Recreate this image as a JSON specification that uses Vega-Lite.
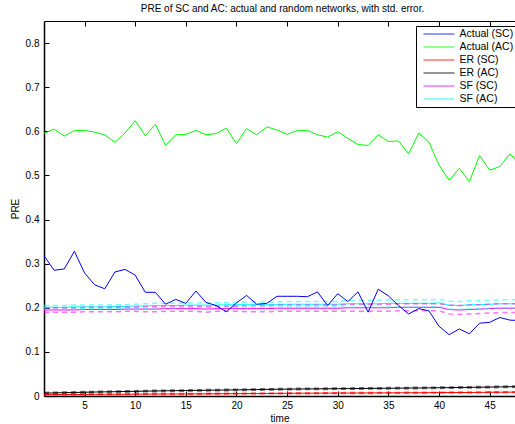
{
  "$schema": "https://vega.github.io/schema/vega-lite/v6.json",
  "width": 471,
  "height": 375,
  "autosize": "none",
  "padding": {"left": 44, "top": 21, "right": 0, "bottom": 28},
  "background": "white",
  "config": {
    "view": {"stroke": null},
    "font": "Liberation Sans",
    "axis": {"grid": false, "labelFontSize": 10, "labelColor": "black", "titleFontSize": 10, "titleFontWeight": "normal", "titleColor": "black", "domainColor": "black", "tickColor": "black", "tickSize": -5}
  },
  "title": {"text": "PRE of SC and AC: actual and random networks, with std. error.", "fontSize": 10, "fontWeight": "normal", "color": "black", "anchor": "middle", "offset": 7, "dx": 3},
  "datasets": {
    "act": [
      {"t":1,"s":"Actual (SC)","v":0.318},{"t":2,"s":"Actual (SC)","v":0.285},{"t":3,"s":"Actual (SC)","v":0.288},{"t":4,"s":"Actual (SC)","v":0.328},{"t":5,"s":"Actual (SC)","v":0.279},{"t":6,"s":"Actual (SC)","v":0.252},{"t":7,"s":"Actual (SC)","v":0.243},{"t":8,"s":"Actual (SC)","v":0.281},{"t":9,"s":"Actual (SC)","v":0.287},{"t":10,"s":"Actual (SC)","v":0.274},
      {"t":11,"s":"Actual (SC)","v":0.235},{"t":12,"s":"Actual (SC)","v":0.235},{"t":13,"s":"Actual (SC)","v":0.208},{"t":14,"s":"Actual (SC)","v":0.219},{"t":15,"s":"Actual (SC)","v":0.210},{"t":16,"s":"Actual (SC)","v":0.238},{"t":17,"s":"Actual (SC)","v":0.212},{"t":18,"s":"Actual (SC)","v":0.205},{"t":19,"s":"Actual (SC)","v":0.191},{"t":20,"s":"Actual (SC)","v":0.211},
      {"t":21,"s":"Actual (SC)","v":0.228},{"t":22,"s":"Actual (SC)","v":0.208},{"t":23,"s":"Actual (SC)","v":0.210},{"t":24,"s":"Actual (SC)","v":0.226},{"t":25,"s":"Actual (SC)","v":0.226},{"t":26,"s":"Actual (SC)","v":0.226},{"t":27,"s":"Actual (SC)","v":0.225},{"t":28,"s":"Actual (SC)","v":0.236},{"t":29,"s":"Actual (SC)","v":0.205},{"t":30,"s":"Actual (SC)","v":0.232},
      {"t":31,"s":"Actual (SC)","v":0.214},{"t":32,"s":"Actual (SC)","v":0.236},{"t":33,"s":"Actual (SC)","v":0.190},{"t":34,"s":"Actual (SC)","v":0.242},{"t":35,"s":"Actual (SC)","v":0.227},{"t":36,"s":"Actual (SC)","v":0.205},{"t":37,"s":"Actual (SC)","v":0.186},{"t":38,"s":"Actual (SC)","v":0.198},{"t":39,"s":"Actual (SC)","v":0.193},{"t":40,"s":"Actual (SC)","v":0.158},
      {"t":41,"s":"Actual (SC)","v":0.139},{"t":42,"s":"Actual (SC)","v":0.152},{"t":43,"s":"Actual (SC)","v":0.141},{"t":44,"s":"Actual (SC)","v":0.165},{"t":45,"s":"Actual (SC)","v":0.167},{"t":46,"s":"Actual (SC)","v":0.178},{"t":47,"s":"Actual (SC)","v":0.172},{"t":48,"s":"Actual (SC)","v":0.171},
      {"t":1,"s":"Actual (AC)","v":0.595},{"t":2,"s":"Actual (AC)","v":0.605},{"t":3,"s":"Actual (AC)","v":0.589},{"t":4,"s":"Actual (AC)","v":0.602},{"t":5,"s":"Actual (AC)","v":0.602},{"t":6,"s":"Actual (AC)","v":0.598},{"t":7,"s":"Actual (AC)","v":0.592},{"t":8,"s":"Actual (AC)","v":0.575},{"t":9,"s":"Actual (AC)","v":0.596},{"t":10,"s":"Actual (AC)","v":0.624},
      {"t":11,"s":"Actual (AC)","v":0.590},{"t":12,"s":"Actual (AC)","v":0.616},{"t":13,"s":"Actual (AC)","v":0.568},{"t":14,"s":"Actual (AC)","v":0.592},{"t":15,"s":"Actual (AC)","v":0.593},{"t":16,"s":"Actual (AC)","v":0.602},{"t":17,"s":"Actual (AC)","v":0.592},{"t":18,"s":"Actual (AC)","v":0.595},{"t":19,"s":"Actual (AC)","v":0.607},{"t":20,"s":"Actual (AC)","v":0.572},
      {"t":21,"s":"Actual (AC)","v":0.606},{"t":22,"s":"Actual (AC)","v":0.592},{"t":23,"s":"Actual (AC)","v":0.610},{"t":24,"s":"Actual (AC)","v":0.603},{"t":25,"s":"Actual (AC)","v":0.593},{"t":26,"s":"Actual (AC)","v":0.602},{"t":27,"s":"Actual (AC)","v":0.602},{"t":28,"s":"Actual (AC)","v":0.592},{"t":29,"s":"Actual (AC)","v":0.587},{"t":30,"s":"Actual (AC)","v":0.599},
      {"t":31,"s":"Actual (AC)","v":0.584},{"t":32,"s":"Actual (AC)","v":0.570},{"t":33,"s":"Actual (AC)","v":0.568},{"t":34,"s":"Actual (AC)","v":0.592},{"t":35,"s":"Actual (AC)","v":0.577},{"t":36,"s":"Actual (AC)","v":0.578},{"t":37,"s":"Actual (AC)","v":0.549},{"t":38,"s":"Actual (AC)","v":0.596},{"t":39,"s":"Actual (AC)","v":0.576},{"t":40,"s":"Actual (AC)","v":0.523},
      {"t":41,"s":"Actual (AC)","v":0.489},{"t":42,"s":"Actual (AC)","v":0.516},{"t":43,"s":"Actual (AC)","v":0.486},{"t":44,"s":"Actual (AC)","v":0.545},{"t":45,"s":"Actual (AC)","v":0.512},{"t":46,"s":"Actual (AC)","v":0.520},{"t":47,"s":"Actual (AC)","v":0.549},{"t":48,"s":"Actual (AC)","v":0.525}
    ],
    "rnd": [
      {"t":1,"s":"ER (SC)","v":0.0030,"lo":0.0020,"hi":0.0040},{"t":2,"s":"ER (SC)","v":0.0031,"lo":0.0021,"hi":0.0041},{"t":3,"s":"ER (SC)","v":0.0033,"lo":0.0023,"hi":0.0043},{"t":4,"s":"ER (SC)","v":0.0034,"lo":0.0024,"hi":0.0044},{"t":5,"s":"ER (SC)","v":0.0035,"lo":0.0025,"hi":0.0045},{"t":6,"s":"ER (SC)","v":0.0037,"lo":0.0027,"hi":0.0047},{"t":7,"s":"ER (SC)","v":0.0038,"lo":0.0028,"hi":0.0048},{"t":8,"s":"ER (SC)","v":0.0039,"lo":0.0029,"hi":0.0049},{"t":9,"s":"ER (SC)","v":0.0040,"lo":0.0030,"hi":0.0050},{"t":10,"s":"ER (SC)","v":0.0042,"lo":0.0032,"hi":0.0052},
      {"t":11,"s":"ER (SC)","v":0.0043,"lo":0.0033,"hi":0.0053},{"t":12,"s":"ER (SC)","v":0.0044,"lo":0.0034,"hi":0.0054},{"t":13,"s":"ER (SC)","v":0.0045,"lo":0.0035,"hi":0.0055},{"t":14,"s":"ER (SC)","v":0.0046,"lo":0.0036,"hi":0.0056},{"t":15,"s":"ER (SC)","v":0.0047,"lo":0.0037,"hi":0.0057},{"t":16,"s":"ER (SC)","v":0.0048,"lo":0.0038,"hi":0.0058},{"t":17,"s":"ER (SC)","v":0.0050,"lo":0.0040,"hi":0.0060},{"t":18,"s":"ER (SC)","v":0.0051,"lo":0.0041,"hi":0.0061},{"t":19,"s":"ER (SC)","v":0.0052,"lo":0.0042,"hi":0.0062},{"t":20,"s":"ER (SC)","v":0.0053,"lo":0.0043,"hi":0.0063},
      {"t":21,"s":"ER (SC)","v":0.0055,"lo":0.0045,"hi":0.0065},{"t":22,"s":"ER (SC)","v":0.0056,"lo":0.0046,"hi":0.0066},{"t":23,"s":"ER (SC)","v":0.0058,"lo":0.0048,"hi":0.0068},{"t":24,"s":"ER (SC)","v":0.0060,"lo":0.0050,"hi":0.0070},{"t":25,"s":"ER (SC)","v":0.0061,"lo":0.0051,"hi":0.0071},{"t":26,"s":"ER (SC)","v":0.0062,"lo":0.0052,"hi":0.0072},{"t":27,"s":"ER (SC)","v":0.0063,"lo":0.0053,"hi":0.0073},{"t":28,"s":"ER (SC)","v":0.0064,"lo":0.0054,"hi":0.0074},{"t":29,"s":"ER (SC)","v":0.0065,"lo":0.0055,"hi":0.0075},{"t":30,"s":"ER (SC)","v":0.0066,"lo":0.0056,"hi":0.0076},
      {"t":31,"s":"ER (SC)","v":0.0067,"lo":0.0057,"hi":0.0077},{"t":32,"s":"ER (SC)","v":0.0068,"lo":0.0058,"hi":0.0078},{"t":33,"s":"ER (SC)","v":0.0069,"lo":0.0059,"hi":0.0079},{"t":34,"s":"ER (SC)","v":0.0070,"lo":0.0060,"hi":0.0080},{"t":35,"s":"ER (SC)","v":0.0071,"lo":0.0061,"hi":0.0081},{"t":36,"s":"ER (SC)","v":0.0072,"lo":0.0062,"hi":0.0082},{"t":37,"s":"ER (SC)","v":0.0073,"lo":0.0063,"hi":0.0083},{"t":38,"s":"ER (SC)","v":0.0074,"lo":0.0064,"hi":0.0084},{"t":39,"s":"ER (SC)","v":0.0075,"lo":0.0065,"hi":0.0085},{"t":40,"s":"ER (SC)","v":0.0077,"lo":0.0067,"hi":0.0087},
      {"t":41,"s":"ER (SC)","v":0.0078,"lo":0.0068,"hi":0.0088},{"t":42,"s":"ER (SC)","v":0.0079,"lo":0.0069,"hi":0.0089},{"t":43,"s":"ER (SC)","v":0.0080,"lo":0.0070,"hi":0.0090},{"t":44,"s":"ER (SC)","v":0.0082,"lo":0.0072,"hi":0.0092},{"t":45,"s":"ER (SC)","v":0.0084,"lo":0.0074,"hi":0.0094},{"t":46,"s":"ER (SC)","v":0.0086,"lo":0.0076,"hi":0.0096},{"t":47,"s":"ER (SC)","v":0.0087,"lo":0.0077,"hi":0.0097},{"t":48,"s":"ER (SC)","v":0.0088,"lo":0.0078,"hi":0.0098},
      {"t":1,"s":"ER (AC)","v":0.0065,"lo":0.0050,"hi":0.0080},{"t":2,"s":"ER (AC)","v":0.0070,"lo":0.0055,"hi":0.0085},{"t":3,"s":"ER (AC)","v":0.0075,"lo":0.0060,"hi":0.0090},{"t":4,"s":"ER (AC)","v":0.0080,"lo":0.0065,"hi":0.0095},{"t":5,"s":"ER (AC)","v":0.0085,"lo":0.0070,"hi":0.0100},{"t":6,"s":"ER (AC)","v":0.0090,"lo":0.0075,"hi":0.0105},{"t":7,"s":"ER (AC)","v":0.0094,"lo":0.0079,"hi":0.0109},{"t":8,"s":"ER (AC)","v":0.0098,"lo":0.0083,"hi":0.0113},{"t":9,"s":"ER (AC)","v":0.0102,"lo":0.0087,"hi":0.0117},{"t":10,"s":"ER (AC)","v":0.0106,"lo":0.0091,"hi":0.0121},
      {"t":11,"s":"ER (AC)","v":0.0110,"lo":0.0095,"hi":0.0125},{"t":12,"s":"ER (AC)","v":0.0114,"lo":0.0099,"hi":0.0129},{"t":13,"s":"ER (AC)","v":0.0118,"lo":0.0103,"hi":0.0133},{"t":14,"s":"ER (AC)","v":0.0121,"lo":0.0106,"hi":0.0136},{"t":15,"s":"ER (AC)","v":0.0124,"lo":0.0109,"hi":0.0139},{"t":16,"s":"ER (AC)","v":0.0127,"lo":0.0112,"hi":0.0142},{"t":17,"s":"ER (AC)","v":0.0130,"lo":0.0115,"hi":0.0145},{"t":18,"s":"ER (AC)","v":0.0133,"lo":0.0118,"hi":0.0148},{"t":19,"s":"ER (AC)","v":0.0136,"lo":0.0121,"hi":0.0151},{"t":20,"s":"ER (AC)","v":0.0139,"lo":0.0124,"hi":0.0154},
      {"t":21,"s":"ER (AC)","v":0.0142,"lo":0.0127,"hi":0.0157},{"t":22,"s":"ER (AC)","v":0.0146,"lo":0.0131,"hi":0.0161},{"t":23,"s":"ER (AC)","v":0.0150,"lo":0.0135,"hi":0.0165},{"t":24,"s":"ER (AC)","v":0.0153,"lo":0.0138,"hi":0.0168},{"t":25,"s":"ER (AC)","v":0.0156,"lo":0.0141,"hi":0.0171},{"t":26,"s":"ER (AC)","v":0.0158,"lo":0.0143,"hi":0.0173},{"t":27,"s":"ER (AC)","v":0.0160,"lo":0.0145,"hi":0.0175},{"t":28,"s":"ER (AC)","v":0.0162,"lo":0.0147,"hi":0.0177},{"t":29,"s":"ER (AC)","v":0.0164,"lo":0.0149,"hi":0.0179},{"t":30,"s":"ER (AC)","v":0.0166,"lo":0.0151,"hi":0.0181},
      {"t":31,"s":"ER (AC)","v":0.0168,"lo":0.0153,"hi":0.0183},{"t":32,"s":"ER (AC)","v":0.0170,"lo":0.0155,"hi":0.0185},{"t":33,"s":"ER (AC)","v":0.0172,"lo":0.0157,"hi":0.0187},{"t":34,"s":"ER (AC)","v":0.0174,"lo":0.0159,"hi":0.0189},{"t":35,"s":"ER (AC)","v":0.0176,"lo":0.0161,"hi":0.0191},{"t":36,"s":"ER (AC)","v":0.0178,"lo":0.0163,"hi":0.0193},{"t":37,"s":"ER (AC)","v":0.0180,"lo":0.0165,"hi":0.0195},{"t":38,"s":"ER (AC)","v":0.0182,"lo":0.0167,"hi":0.0197},{"t":39,"s":"ER (AC)","v":0.0184,"lo":0.0169,"hi":0.0199},{"t":40,"s":"ER (AC)","v":0.0187,"lo":0.0172,"hi":0.0202},
      {"t":41,"s":"ER (AC)","v":0.0190,"lo":0.0175,"hi":0.0205},{"t":42,"s":"ER (AC)","v":0.0193,"lo":0.0178,"hi":0.0208},{"t":43,"s":"ER (AC)","v":0.0196,"lo":0.0181,"hi":0.0211},{"t":44,"s":"ER (AC)","v":0.0199,"lo":0.0184,"hi":0.0214},{"t":45,"s":"ER (AC)","v":0.0202,"lo":0.0187,"hi":0.0217},{"t":46,"s":"ER (AC)","v":0.0206,"lo":0.0191,"hi":0.0221},{"t":47,"s":"ER (AC)","v":0.0210,"lo":0.0195,"hi":0.0225},{"t":48,"s":"ER (AC)","v":0.0212,"lo":0.0197,"hi":0.0227},
      {"t":1,"s":"SF (SC)","v":0.195,"lo":0.190,"hi":0.200},{"t":2,"s":"SF (SC)","v":0.195,"lo":0.190,"hi":0.200},{"t":3,"s":"SF (SC)","v":0.195,"lo":0.190,"hi":0.200},{"t":4,"s":"SF (SC)","v":0.195,"lo":0.190,"hi":0.200},{"t":5,"s":"SF (SC)","v":0.196,"lo":0.191,"hi":0.201},{"t":6,"s":"SF (SC)","v":0.196,"lo":0.191,"hi":0.201},{"t":7,"s":"SF (SC)","v":0.196,"lo":0.191,"hi":0.201},{"t":8,"s":"SF (SC)","v":0.196,"lo":0.191,"hi":0.201},{"t":9,"s":"SF (SC)","v":0.197,"lo":0.192,"hi":0.202},{"t":10,"s":"SF (SC)","v":0.197,"lo":0.192,"hi":0.202},
      {"t":11,"s":"SF (SC)","v":0.197,"lo":0.191,"hi":0.203},{"t":12,"s":"SF (SC)","v":0.197,"lo":0.191,"hi":0.203},{"t":13,"s":"SF (SC)","v":0.198,"lo":0.192,"hi":0.204},{"t":14,"s":"SF (SC)","v":0.198,"lo":0.192,"hi":0.204},{"t":15,"s":"SF (SC)","v":0.198,"lo":0.192,"hi":0.204},{"t":16,"s":"SF (SC)","v":0.198,"lo":0.192,"hi":0.204},{"t":17,"s":"SF (SC)","v":0.197,"lo":0.190,"hi":0.203},{"t":18,"s":"SF (SC)","v":0.198,"lo":0.192,"hi":0.204},{"t":19,"s":"SF (SC)","v":0.198,"lo":0.192,"hi":0.204},{"t":20,"s":"SF (SC)","v":0.198,"lo":0.192,"hi":0.204},
      {"t":21,"s":"SF (SC)","v":0.198,"lo":0.191,"hi":0.205},{"t":22,"s":"SF (SC)","v":0.198,"lo":0.191,"hi":0.205},{"t":23,"s":"SF (SC)","v":0.198,"lo":0.191,"hi":0.205},{"t":24,"s":"SF (SC)","v":0.199,"lo":0.192,"hi":0.206},{"t":25,"s":"SF (SC)","v":0.199,"lo":0.192,"hi":0.206},{"t":26,"s":"SF (SC)","v":0.199,"lo":0.192,"hi":0.206},{"t":27,"s":"SF (SC)","v":0.199,"lo":0.192,"hi":0.206},{"t":28,"s":"SF (SC)","v":0.199,"lo":0.192,"hi":0.206},{"t":29,"s":"SF (SC)","v":0.199,"lo":0.192,"hi":0.206},{"t":30,"s":"SF (SC)","v":0.199,"lo":0.192,"hi":0.206},
      {"t":31,"s":"SF (SC)","v":0.200,"lo":0.192,"hi":0.208},{"t":32,"s":"SF (SC)","v":0.200,"lo":0.192,"hi":0.208},{"t":33,"s":"SF (SC)","v":0.200,"lo":0.192,"hi":0.208},{"t":34,"s":"SF (SC)","v":0.200,"lo":0.192,"hi":0.208},{"t":35,"s":"SF (SC)","v":0.200,"lo":0.192,"hi":0.208},{"t":36,"s":"SF (SC)","v":0.201,"lo":0.193,"hi":0.209},{"t":37,"s":"SF (SC)","v":0.201,"lo":0.193,"hi":0.209},{"t":38,"s":"SF (SC)","v":0.201,"lo":0.193,"hi":0.209},{"t":39,"s":"SF (SC)","v":0.201,"lo":0.193,"hi":0.209},{"t":40,"s":"SF (SC)","v":0.201,"lo":0.193,"hi":0.209},
      {"t":41,"s":"SF (SC)","v":0.196,"lo":0.186,"hi":0.206},{"t":42,"s":"SF (SC)","v":0.195,"lo":0.185,"hi":0.205},{"t":43,"s":"SF (SC)","v":0.196,"lo":0.186,"hi":0.206},{"t":44,"s":"SF (SC)","v":0.197,"lo":0.187,"hi":0.207},{"t":45,"s":"SF (SC)","v":0.198,"lo":0.188,"hi":0.208},{"t":46,"s":"SF (SC)","v":0.199,"lo":0.189,"hi":0.209},{"t":47,"s":"SF (SC)","v":0.199,"lo":0.189,"hi":0.209},{"t":48,"s":"SF (SC)","v":0.199,"lo":0.189,"hi":0.209},
      {"t":1,"s":"SF (AC)","v":0.201,"lo":0.197,"hi":0.205},{"t":2,"s":"SF (AC)","v":0.201,"lo":0.197,"hi":0.205},{"t":3,"s":"SF (AC)","v":0.201,"lo":0.197,"hi":0.205},{"t":4,"s":"SF (AC)","v":0.202,"lo":0.198,"hi":0.206},{"t":5,"s":"SF (AC)","v":0.202,"lo":0.198,"hi":0.206},{"t":6,"s":"SF (AC)","v":0.202,"lo":0.198,"hi":0.206},{"t":7,"s":"SF (AC)","v":0.202,"lo":0.198,"hi":0.206},{"t":8,"s":"SF (AC)","v":0.203,"lo":0.199,"hi":0.207},{"t":9,"s":"SF (AC)","v":0.203,"lo":0.199,"hi":0.207},{"t":10,"s":"SF (AC)","v":0.204,"lo":0.200,"hi":0.208},
      {"t":11,"s":"SF (AC)","v":0.204,"lo":0.199,"hi":0.209},{"t":12,"s":"SF (AC)","v":0.205,"lo":0.200,"hi":0.210},{"t":13,"s":"SF (AC)","v":0.205,"lo":0.200,"hi":0.210},{"t":14,"s":"SF (AC)","v":0.205,"lo":0.200,"hi":0.210},{"t":15,"s":"SF (AC)","v":0.206,"lo":0.201,"hi":0.211},{"t":16,"s":"SF (AC)","v":0.206,"lo":0.201,"hi":0.211},{"t":17,"s":"SF (AC)","v":0.206,"lo":0.201,"hi":0.211},{"t":18,"s":"SF (AC)","v":0.206,"lo":0.201,"hi":0.211},{"t":19,"s":"SF (AC)","v":0.207,"lo":0.202,"hi":0.212},{"t":20,"s":"SF (AC)","v":0.207,"lo":0.202,"hi":0.212},
      {"t":21,"s":"SF (AC)","v":0.207,"lo":0.201,"hi":0.213},{"t":22,"s":"SF (AC)","v":0.207,"lo":0.201,"hi":0.213},{"t":23,"s":"SF (AC)","v":0.207,"lo":0.201,"hi":0.213},{"t":24,"s":"SF (AC)","v":0.207,"lo":0.201,"hi":0.213},{"t":25,"s":"SF (AC)","v":0.208,"lo":0.202,"hi":0.214},{"t":26,"s":"SF (AC)","v":0.208,"lo":0.202,"hi":0.214},{"t":27,"s":"SF (AC)","v":0.208,"lo":0.202,"hi":0.214},{"t":28,"s":"SF (AC)","v":0.208,"lo":0.202,"hi":0.214},{"t":29,"s":"SF (AC)","v":0.208,"lo":0.202,"hi":0.214},{"t":30,"s":"SF (AC)","v":0.208,"lo":0.202,"hi":0.214},
      {"t":31,"s":"SF (AC)","v":0.209,"lo":0.201,"hi":0.217},{"t":32,"s":"SF (AC)","v":0.209,"lo":0.201,"hi":0.217},{"t":33,"s":"SF (AC)","v":0.209,"lo":0.201,"hi":0.217},{"t":34,"s":"SF (AC)","v":0.209,"lo":0.201,"hi":0.217},{"t":35,"s":"SF (AC)","v":0.210,"lo":0.202,"hi":0.218},{"t":36,"s":"SF (AC)","v":0.210,"lo":0.202,"hi":0.218},{"t":37,"s":"SF (AC)","v":0.210,"lo":0.202,"hi":0.218},{"t":38,"s":"SF (AC)","v":0.210,"lo":0.202,"hi":0.218},{"t":39,"s":"SF (AC)","v":0.210,"lo":0.202,"hi":0.218},{"t":40,"s":"SF (AC)","v":0.211,"lo":0.203,"hi":0.219},
      {"t":41,"s":"SF (AC)","v":0.206,"lo":0.197,"hi":0.215},{"t":42,"s":"SF (AC)","v":0.205,"lo":0.196,"hi":0.214},{"t":43,"s":"SF (AC)","v":0.207,"lo":0.198,"hi":0.216},{"t":44,"s":"SF (AC)","v":0.207,"lo":0.198,"hi":0.216},{"t":45,"s":"SF (AC)","v":0.208,"lo":0.199,"hi":0.217},{"t":46,"s":"SF (AC)","v":0.209,"lo":0.200,"hi":0.218},{"t":47,"s":"SF (AC)","v":0.209,"lo":0.200,"hi":0.218},{"t":48,"s":"SF (AC)","v":0.209,"lo":0.200,"hi":0.218}
    ]
  },
  "layer": [
    {
      "data": {"name": "rnd"},
      "mark": {"type": "line", "strokeWidth": 1, "clip": true},
      "encoding": {
        "x": {"field": "t", "type": "quantitative", "scale": {"domain": [1, 47.5], "nice": false, "zero": false},
          "axis": {"orient": "bottom", "title": "time", "values": [5, 10, 15, 20, 25, 30, 35, 40, 45], "domain": true, "domainWidth": 1.5, "labelPadding": 9, "titlePadding": 3}},
        "y": {"field": "v", "type": "quantitative", "scale": {"domain": [0, 0.85], "nice": false},
          "axis": {"title": "PRE", "values": [0, 0.1, 0.2, 0.3, 0.4, 0.5, 0.6, 0.7, 0.8], "format": "~g", "domain": true, "domainWidth": 1.5, "labelPadding": 10, "titlePadding": 5}},
        "color": {"field": "s", "type": "nominal",
          "scale": {"domain": ["Actual (SC)", "Actual (AC)", "ER (SC)", "ER (AC)", "SF (SC)", "SF (AC)"], "range": ["#0000ff", "#00ff00", "#ff0000", "#000000", "#ff00ff", "#00ffff"]},
          "legend": {"orient": "none", "legendX": 372, "legendY": 5, "title": null, "symbolType": "stroke", "symbolSize": 961, "symbolStrokeWidth": 1.5, "symbolOpacity": 0.7, "symbolDash": [1, 0], "symbolOffset": 5, "clipHeight": 13, "labelFontSize": 10.5, "labelColor": "black", "labelOffset": 4, "strokeColor": "black", "fillColor": "white", "padding": 1.5, "rowPadding": 0}}
      }
    },
    {
      "data": {"name": "rnd"},
      "mark": {"type": "line", "strokeWidth": 1.5, "strokeDash": [5, 4], "opacity": 0.55, "clip": true},
      "encoding": {
        "x": {"field": "t", "type": "quantitative", "axis": {"orient": "top", "title": null, "labels": false, "values": [5, 10, 15, 20, 25, 30, 35, 40, 45], "domain": true, "domainWidth": 1}},
        "y": {"field": "lo", "type": "quantitative",
          "axis": {"title": "PRE", "values": [0, 0.1, 0.2, 0.3, 0.4, 0.5, 0.6, 0.7, 0.8], "format": "~g", "domain": true, "domainWidth": 1.5, "labelPadding": 10, "titlePadding": 5}},
        "color": {"field": "s", "type": "nominal"}
      }
    },
    {
      "data": {"name": "rnd"},
      "mark": {"type": "line", "strokeWidth": 1.5, "strokeDash": [5, 4], "opacity": 0.55, "clip": true},
      "encoding": {
        "x": {"field": "t", "type": "quantitative", "axis": null},
        "y": {"field": "hi", "type": "quantitative",
          "axis": {"title": "PRE", "values": [0, 0.1, 0.2, 0.3, 0.4, 0.5, 0.6, 0.7, 0.8], "format": "~g", "domain": true, "domainWidth": 1.5, "labelPadding": 10, "titlePadding": 5}},
        "color": {"field": "s", "type": "nominal"}
      }
    },
    {
      "data": {"name": "act"},
      "mark": {"type": "line", "strokeWidth": 1, "clip": true},
      "encoding": {
        "x": {"field": "t", "type": "quantitative", "axis": null},
        "y": {"field": "v", "type": "quantitative",
          "axis": {"title": "PRE", "values": [0, 0.1, 0.2, 0.3, 0.4, 0.5, 0.6, 0.7, 0.8], "format": "~g", "domain": true, "domainWidth": 1.5, "labelPadding": 10, "titlePadding": 5}},
        "color": {"field": "s", "type": "nominal"}
      }
    }
  ],
  "resolve": {"axis": {"x": "independent"}}
}
